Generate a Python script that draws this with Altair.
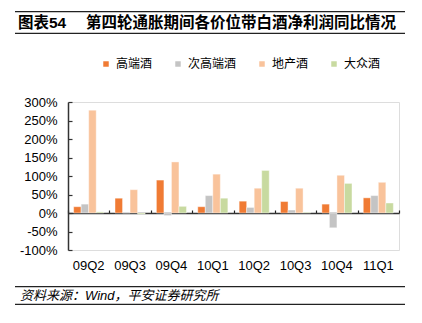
import altair as alt
import pandas as pd

categories = ["09Q2", "09Q3", "09Q4", "10Q1", "10Q2", "10Q3", "10Q4", "11Q1"]
series_names = ["高端酒", "次高端酒", "地产酒", "大众酒"]
high_end = [17, 40, 89, 17, 32, 31, 24, 41]
sub_high_end = [24, 0, -7, 47, 15, 8, -40, 47]
regional = [278, 63, 138, 105, 67, 67, 102, 83]
mass_market = [3, -3, 18, 40, 115, 2, 80, 27]
colors = ["#F07B34", "#C4C4C4", "#F9C39B", "#C8DAA0"]
y_ticks = [-100, -50, 0, 50, 100, 150, 200, 250, 300]

title_label = "图表54"
title_text = "第四轮通胀期间各价位带白酒净利润同比情况"
source_text = "资料来源：Wind，平安证券研究所"

rows = []
for name, vals in zip(series_names, [high_end, sub_high_end, regional, mass_market]):
    for c, v in zip(categories, vals):
        rows.append({"period": c, "series": name, "value": v})
df = pd.DataFrame(rows)

FONT = "Liberation Sans, Noto Sans CJK SC"
W, H = 331, 148

x_scale = alt.Scale(paddingInner=0, paddingOuter=0)
y_scale = alt.Scale(domain=[-100, 300], nice=False, zero=False)

bars = alt.Chart(df).mark_bar(stroke="white", strokeWidth=0.6, strokeOpacity=0.7).encode(
    x=alt.X("period:N", sort=categories, scale=x_scale, title=None,
            axis=alt.Axis(orient="bottom", domain=False, ticks=False, labelAngle=0,
                          labelPadding=9, labelFontSize=13, labelColor="#000",
                          labelFont=FONT)),
    xOffset=alt.XOffset("series:N", sort=series_names,
                        scale=alt.Scale(paddingInner=0, paddingOuter=0.75)),
    y=alt.Y("value:Q", stack=None, scale=y_scale, title=None,
            axis=alt.Axis(orient="left", domain=False, ticks=False, grid=False,
                          values=y_ticks, labelExpr="datum.value + '%'",
                          labelPadding=11, labelFontSize=13, labelColor="#000",
                          labelFont=FONT)),
    color=alt.Color("series:N", sort=series_names,
                    scale=alt.Scale(domain=series_names, range=colors),
                    legend=alt.Legend(orient="none", legendX=32, legendY=-44,
                                      direction="horizontal", title=None,
                                      symbolType="square", symbolSize=30,
                                      symbolStrokeWidth=0, labelOffset=4,
                                      columnPadding=19, labelFontSize=12,
                                      labelFont=FONT, labelColor="#000")),
)

axes_layer = alt.Chart(df).mark_bar(opacity=0).encode(
    x=alt.X("period:N", sort=categories, scale=x_scale, title=None,
            axis=alt.Axis(orient="top", offset=-111, labels=False, tickBand="extent",
                          tickSize=3, tickColor="#222", tickWidth=1.2,
                          domainColor="#333", domainWidth=1.5)),
    y=alt.Y("value:Q", stack=None, scale=y_scale, title=None,
            axis=alt.Axis(orient="right", offset=-W, labels=False, grid=False,
                          values=y_ticks, tickSize=4, tickColor="#333", tickWidth=1.2,
                          domainColor="#333", domainWidth=1.5)),
)

rule_ys = [-90.3, -68.7, 184.7, 202.3]
rules = [
    alt.Chart(pd.DataFrame({"k": [i]})).mark_rule(color="#222", strokeWidth=1.3).encode(
        x=alt.value(-53), x2=alt.value(337), y=alt.value(yv))
    for i, yv in enumerate(rule_ys)
]

t1 = alt.Chart(pd.DataFrame({"t": [title_label]})).mark_text(
    align="left", baseline="middle", fontSize=15.5, fontWeight="bold", font=FONT, color="#000"
).encode(text="t:N", x=alt.value(-50), y=alt.value(-79))
t2 = alt.Chart(pd.DataFrame({"t": [title_text]})).mark_text(
    align="left", baseline="middle", fontSize=15.5, fontWeight="bold", font=FONT, color="#000"
).encode(text="t:N", x=alt.value(18), y=alt.value(-79))
t3 = alt.Chart(pd.DataFrame({"t": [source_text]})).mark_text(
    align="left", baseline="middle", fontSize=13, fontStyle="italic", font=FONT, color="#000"
).encode(text="t:N", x=alt.value(-48), y=alt.value(193.5))

chart = alt.layer(bars, axes_layer, *rules, t1, t2, t3).resolve_axis(
    x="independent", y="independent"
).properties(
    width=W, height=H,
    padding={"left": 68, "top": 102, "right": 23, "bottom": 73},
    autosize=alt.AutoSizeParams(type="none"),
).configure_view(stroke=None).configure(background="white")

chart.save("out.html", embed_options={"renderer": "svg", "actions": False})
